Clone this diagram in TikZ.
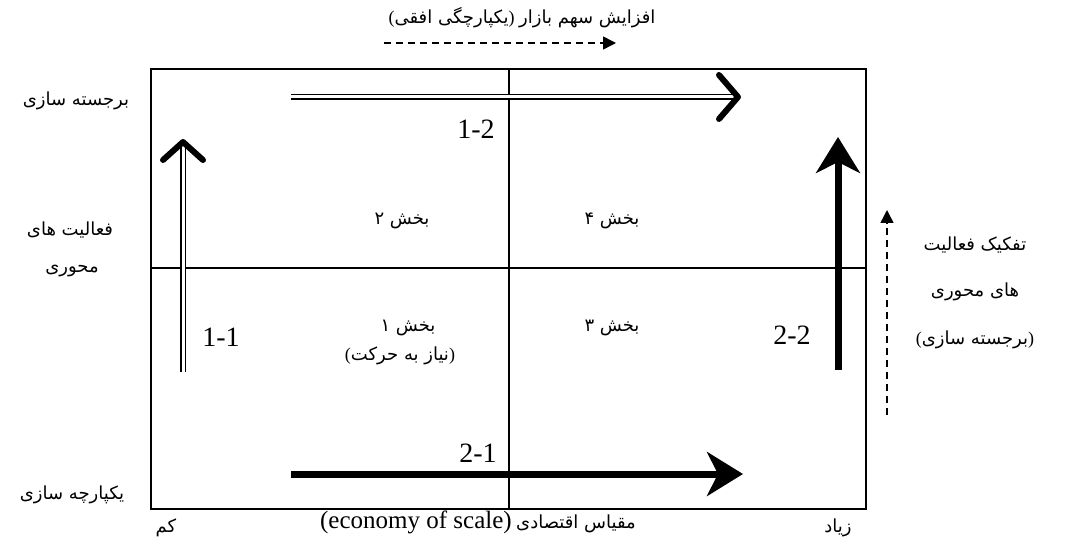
\documentclass[tikz,border=0pt]{standalone}
\usepackage{fontspec}
\setmainfont{Liberation Serif}
\newfontfamily\farsifont[Script=Arabic]{DejaVu Sans}
\TeXXeTstate=1
\usetikzlibrary{arrows.meta}
\usetikzlibrary{positioning}

\newcommand{\pers}[1]{{\farsifont\beginR #1\endR}}

\begin{document}
\begin{tikzpicture}[x=1pt, y=-1pt,
	  every node/.style = {inner sep=0pt, font=\fontsize{18}{21}\selectfont},
	  num/.style = {font=\fontsize{28}{32}\selectfont},
	  frame/.style = {line width=2pt},
	  midline/.style = {line width=1.5pt},
	  dbl/.style = {double, line width=1.6pt, double distance=3pt},
	  chev/.style = {line width=6pt, line cap=round, line join=round},
	  thick arrow/.style = {line width=7pt, -{Stealth[length=36pt, width=44pt, inset=11pt]}},
	  dash arrow/.style = {line width=1.5pt, dash pattern=on 7pt off 5pt, -{Triangle[length=13pt, width=13pt]}}
	]
	  \useasboundingbox (0,0) rectangle (1068,548);

	  % the four cells
	  \coordinate (nw) at (151,69);
	  \coordinate (se) at (866,509);
	  \coordinate (n) at (509,69);
	  \coordinate (s) at (509,509);
	  \coordinate (w) at (151,268);
	  \coordinate (e) at (866,268);
	  \draw[frame] (nw) rectangle (se);
	  \draw[midline] (n) -- (s);
	  \draw[midline] (w) -- (e);

	  % arrows inside
	  \coordinate (a11) at (183,372);
	  \coordinate (b11) at (183,142);
	  \draw[dbl] (a11) -- (b11);
	  \draw[chev] (b11) ++(-20,18) -- (b11) -- ++(20,18);

	  \coordinate (a12) at (291,97);
	  \coordinate (b12) at (738,97);
	  \draw[dbl] (a12) -- (b12);
	  \draw[chev] (b12) ++(-19,-22) -- (b12) -- ++(-19,22);

	  \coordinate (a21) at (291,474);
	  \coordinate (b21) at (743,474);
	  \draw[thick arrow] (a21) -- (b21);

	  \coordinate (a22) at (838,370);
	  \coordinate (b22) at (838,137);
	  \draw[thick arrow] (a22) -- (b22);

	  \node[num] (l11) at (221,337) {1-1};
	  \node[num] (l12) at (476,129) {1-2};
	  \node[num] (l21) at (478,453) {2-1};
	  \node[num] (l22) at (792,335) {2-2};

	  % sections
	  \node (p2) at (402,221) {\pers{بخش ۲}};
	  \node (p4) at (612,221) {\pers{بخش ۴}};
	  \node (p1) at (408,328) {\pers{بخش ۱}};
	  \node (p1b) at (400,356) {(\pers{نیاز به حرکت})};
	  \node (p3) at (612,328) {\pers{بخش ۳}};

	  % left axis
	  \node (lt) at (76,101) {\pers{برجسته سازی}};
	  \node (lm1) at (70,230) {\pers{فعالیت های}};
	  \node (lm2) at (72,271) {\pers{محوری}};
	  \node (lb) at (72,495) {\pers{یکپارچه سازی}};

	  % right side
	  \coordinate (ra) at (887,415);
	  \coordinate (rb) at (887,210);
	  \draw[dash arrow] (ra) -- (rb);
	  \node (r1) at (975,245) {\pers{تفکیک فعالیت}};
	  \node (r2) at (975,292) {\pers{های محوری}};
	  \node (r3) at (975,340) {(\pers{برجسته سازی})};

	  % top
	  \node (top) at (522,18) {(\pers{یکپارچگی افقی}) \pers{افزایش سهم بازار}};
	  \coordinate (ta) at (384,43);
	  \coordinate (tb) at (616,43);
	  \draw[dash arrow] (ta) -- (tb);

	  % bottom axis
	  \node (low) at (166,528) {\pers{کم}};
	  \node (scale) at (478,522) {{\fontsize{25}{29}\selectfont(economy of scale)} \pers{مقیاس اقتصادی}};
	  \node (high) at (838,528) {\pers{زیاد}};
	\end{tikzpicture}
\end{document}
